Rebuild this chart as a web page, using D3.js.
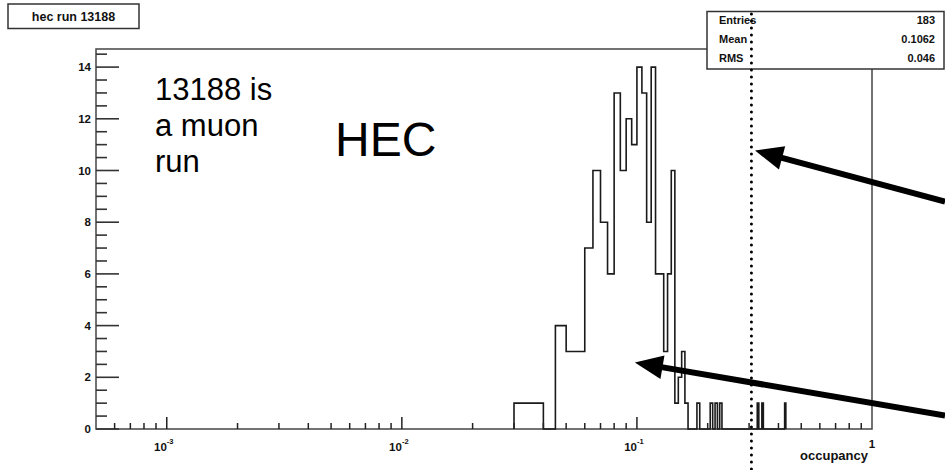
<!DOCTYPE html>
<html>
<head>
<meta charset="utf-8">
<script src="https://cdn.jsdelivr.net/npm/d3@7"></script>
<style>
  body { margin: 0; background: #fff; }
  svg { display: block; }
  .lbl { font-family: "Liberation Sans", Arial, sans-serif; font-weight: bold; fill: #111; }
  .note { font-family: "Liberation Sans", Arial, sans-serif; fill: #000; }
</style>
</head>
<body>
<svg id="chart" width="945" height="470"></svg>
<script>
// histogram of occupancy, bin width 0.005 (only non-empty bins listed)
var binWidth = 0.005;
var binLow = [0.030, 0.035, 0.045, 0.050, 0.055, 0.060, 0.065, 0.070, 0.075, 0.080,
              0.085, 0.090, 0.095, 0.100, 0.105, 0.110, 0.115, 0.120, 0.125, 0.130,
              0.135, 0.140, 0.145, 0.150, 0.155, 0.160, 0.180, 0.205, 0.215, 0.225,
              0.325, 0.340, 0.425];
var counts = [1, 1, 4, 3, 3, 7, 10, 8, 6, 13,
              10, 12, 11, 14, 13, 8, 14, 6, 6, 3,
              6, 10, 1, 2, 3, 1, 1, 1, 1, 1,
              1, 1, 1];

var xDomain = [5e-4, 1];
var yDomain = [0, 14.7];
var xMajor = [1e-3, 1e-2, 1e-1];
var xMajorExp = ["-3", "-2", "-1"];
var yTicks = [0, 2, 4, 6, 8, 10, 12, 14];

var statNames = ["Entries", "Mean", "RMS"];
var statValues = ["183", "0.1062", "0.046"];

var cutValue = 0.307;   // dotted threshold line

// arrows in data coordinates: [x tail, y tail, x tip, y tip]
var arrows = [
  [2.045, 8.8, 0.318, 10.77],
  [2.045, 0.52, 0.098, 2.57]
];

var margin = { left: 96, top: 49, right: 73, bottom: 41 };
var W = 945, H = 470;
var width = W - margin.left - margin.right;
var height = H - margin.top - margin.bottom;

var svg = d3.select("#chart");

var x = d3.scaleLog().domain(xDomain).range([margin.left, margin.left + width]);
var y = d3.scaleLinear().domain(yDomain).range([margin.top + height, margin.top]);
var x0px = margin.left, y0px = margin.top + height;

// frame
svg.append("rect")
  .attr("x", margin.left).attr("y", margin.top)
  .attr("width", width).attr("height", height)
  .attr("fill", "#fff").attr("stroke", "#444").attr("stroke-width", 1.5);

// histogram outline
var pts = [];
var prevHi = null;
binLow.forEach(function(lo, i) {
  var hi = lo + binWidth;
  if (prevHi === null || Math.abs(lo - prevHi) > 1e-9) {
    if (prevHi !== null) pts.push([prevHi, 0]);
    pts.push([lo, 0]);
  }
  pts.push([lo, counts[i]]);
  pts.push([hi, counts[i]]);
  prevHi = hi;
});
pts.push([prevHi, 0]);

svg.append("path")
  .attr("d", d3.line().x(d => x(d[0])).y(d => y(d[1]))(pts))
  .attr("fill", "none")
  .attr("stroke", "#1a1a1a")
  .attr("stroke-width", 1.6);

// y axis ticks (drawn inward): major every 2, minor every 0.5
var yMinor = d3.range(0, 14.75, 0.5).filter(v => v % 2 !== 0);
svg.append("g").selectAll("line")
  .data(yMinor.map(v => [v, 11]).concat(yTicks.map(v => [v, 23])))
  .join("line")
  .attr("x1", x0px).attr("x2", d => x0px + d[1])
  .attr("y1", d => y(d[0])).attr("y2", d => y(d[0]))
  .attr("stroke", "#333").attr("stroke-width", 1.6);

svg.append("g").selectAll("text")
  .data(yTicks)
  .join("text")
  .attr("class", "lbl")
  .attr("x", x0px - 5)
  .attr("y", d => y(d))
  .attr("dy", "0.35em")
  .attr("text-anchor", "end")
  .style("font-size", "11.5px")
  .text(d => d);

// x axis ticks (drawn upward)
var xMinor = [];
[1e-4, 1e-3, 1e-2, 1e-1].forEach(function(dec) {
  for (var k = 2; k <= 9; k++) {
    var v = k * dec;
    if (v > xDomain[0] * 1.0001 && v < xDomain[1]) xMinor.push(v);
  }
});
svg.append("g").selectAll("line")
  .data(xMinor.map(v => [v, 6]).concat(xMajor.map(v => [v, 12])))
  .join("line")
  .attr("x1", d => x(d[0])).attr("x2", d => x(d[0]))
  .attr("y1", y0px).attr("y2", d => y0px - d[1])
  .attr("stroke", "#222").attr("stroke-width", 1.5);

// decade labels 10^n
xMajor.forEach(function(v, i) {
  var t = svg.append("text")
    .attr("class", "lbl")
    .attr("x", x(v) - 3)
    .attr("y", y0px + 22)
    .attr("text-anchor", "middle")
    .style("font-size", "11.5px");
  t.append("tspan").text("10");
  t.append("tspan").attr("dy", -7).style("font-size", "7.5px").text(xMajorExp[i]);
});

svg.append("text")
  .attr("class", "lbl")
  .attr("x", x(1))
  .attr("y", y0px + 19)
  .attr("text-anchor", "middle")
  .style("font-size", "11.5px")
  .text("1");

svg.append("text")
  .attr("class", "lbl")
  .attr("x", x(1) - 4)
  .attr("y", y0px + 31)
  .attr("text-anchor", "end")
  .style("font-size", "13px")
  .text("occupancy");

// stats box
var sb = svg.append("g");
sb.append("rect")
  .attr("x", 707).attr("y", 11.5)
  .attr("width", 237).attr("height", 57.5)
  .attr("fill", "#fff").attr("stroke", "#333").attr("stroke-width", 1.5);
statNames.forEach(function(n, i) {
  sb.append("text").attr("class", "lbl")
    .attr("x", 719).attr("y", 24 + i * 19)
    .style("font-size", "11px").text(n);
  sb.append("text").attr("class", "lbl")
    .attr("x", 935).attr("y", 24 + i * 19)
    .attr("text-anchor", "end")
    .style("font-size", "11px").text(statValues[i]);
});

// dotted threshold line
svg.append("line")
  .attr("x1", x(cutValue)).attr("x2", x(cutValue))
  .attr("y1", 14).attr("y2", H)
  .attr("stroke", "#000")
  .attr("stroke-width", 3)
  .attr("stroke-linecap", "round")
  .attr("stroke-dasharray", "0 7");

// title box
svg.append("rect")
  .attr("x", 8).attr("y", 4)
  .attr("width", 131).attr("height", 24.5)
  .attr("fill", "#fff").attr("stroke", "#333").attr("stroke-width", 1.5);
svg.append("text").attr("class", "lbl")
  .attr("x", 73.5).attr("y", 21)
  .attr("text-anchor", "middle")
  .style("font-size", "12.5px")
  .text("hec run 13188");

// annotations
var note = svg.append("text").attr("class", "note").style("font-size", "31px");
["13188 is", "a muon", "run"].forEach(function(s, i) {
  note.append("tspan").attr("x", 155).attr("y", 100 + i * 36).text(s);
});
svg.append("text").attr("class", "note")
  .attr("x", 335).attr("y", 156)
  .style("font-size", "48px")
  .text("HEC");

// arrows
arrows.forEach(function(a) {
  var xa = x(a[0]), ya = y(a[1]), xb = x(a[2]), yb = y(a[3]);
  var ang = Math.atan2(yb - ya, xb - xa);
  var len = 28, hw = 12;
  var bx = xb - len * Math.cos(ang), by = yb - len * Math.sin(ang);
  svg.append("line")
    .attr("x1", xa).attr("y1", ya)
    .attr("x2", bx + 4 * Math.cos(ang)).attr("y2", by + 4 * Math.sin(ang))
    .attr("stroke", "#000").attr("stroke-width", 6);
  var p1 = [bx + hw * Math.sin(ang), by - hw * Math.cos(ang)];
  var p2 = [bx - hw * Math.sin(ang), by + hw * Math.cos(ang)];
  svg.append("path")
    .attr("d", "M" + xb + "," + yb + "L" + p1 + "L" + p2 + "Z")
    .attr("fill", "#000");
});
</script>
</body>
</html>
